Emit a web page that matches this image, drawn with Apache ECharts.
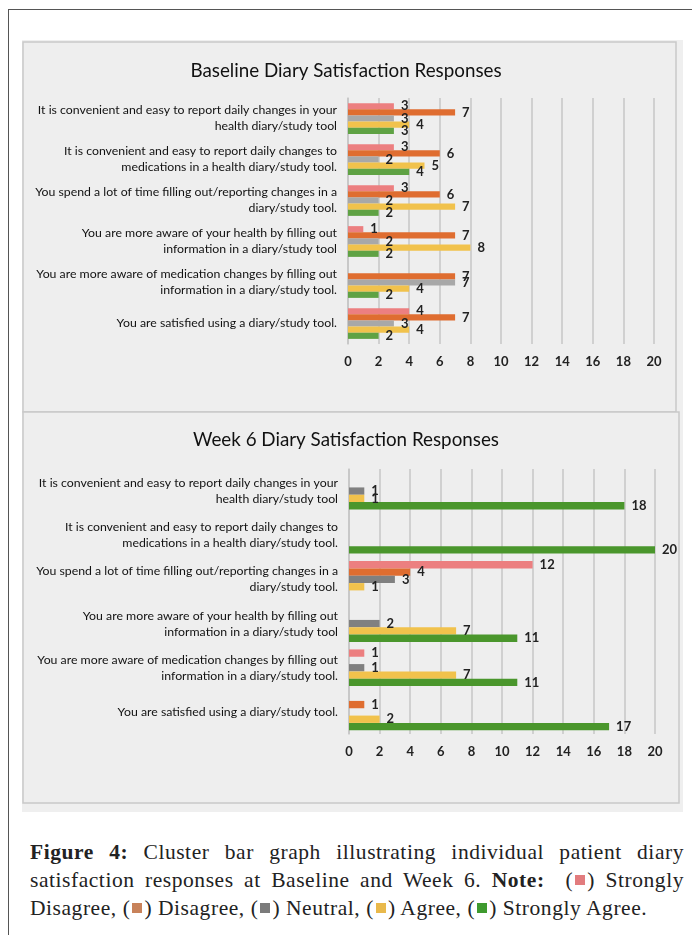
<!DOCTYPE html>
<html>
<head>
<meta charset="UTF-8">
<title>Diary satisfaction responses</title>
<script type="text/javascript" src="https://cdn.jsdelivr.net/npm/echarts@6/dist/echarts.min.js"></script>
<style>
body { margin:0; background:#fff; }
#frame { position:absolute; left:8px; top:9px; width:700px; height:940px; border-left:1.5px solid #555; border-top:1.5px solid #555; z-index:2; pointer-events:none; }
#box { position:absolute; left:0; top:0; width:692px; height:820px; }
#cap { position:absolute; left:30px; top:838px; width:654px; font-family:"Liberation Serif", serif; font-size:21.5px; letter-spacing:0.55px; color:#222; line-height:28px; }
#cap div { text-align:justify; text-align-last:justify; white-space:nowrap; }
#cap div.last { text-align-last:left; }
#cap b { font-weight:bold; }
.sq { display:inline-block; width:10px; height:10px; margin:0 2px; vertical-align:2px; }
</style>
</head>
<body>
<div id="frame"></div>
<div id="box"></div>
<div id="cap">
  <div><b>Figure 4:</b> Cluster bar graph illustrating individual patient diary</div>
  <div>satisfaction responses at Baseline and Week 6. <b>Note:</b>&nbsp; (<span class="sq" style="background:#e27c7e"></span>) Strongly</div>
  <div class="last">Disagree, (<span class="sq" style="background:#c8825a"></span>) Disagree, (<span class="sq" style="background:#7b7b7b"></span>) Neutral, (<span class="sq" style="background:#e9b94b"></span>) Agree, (<span class="sq" style="background:#3f9a2e"></span>) Strongly Agree.</div>
</div>

<script type="text/javascript">

// categories, top to bottom
var categories = [
  'It is convenient and easy to report daily changes in your\nhealth diary/study tool',
  'It is convenient and easy to report daily changes to\nmedications in a health diary/study tool.',
  'You spend a lot of time filling out/reporting changes in a\ndiary/study tool.',
  'You are more aware of your health by filling out\ninformation in a diary/study tool',
  'You are more aware of medication changes by filling out\ninformation in a diary/study tool.',
  'You are satisfied using a diary/study tool.'
];
var seriesNames = ['Strongly Disagree', 'Disagree', 'Neutral', 'Agree', 'Strongly Agree'];
var xTicks = [0, 2, 4, 6, 8, 10, 12, 14, 16, 18, 20];

// baseline counts (null = no bar)
var baseStronglyDisagree = [3, 3, 3, 1, null, 4];
var baseDisagree         = [7, 6, 6, 7, 7, 7];
var baseNeutral          = [3, 2, 2, 2, 7, 3];
var baseAgree            = [4, 5, 7, 8, 4, 4];
var baseStronglyAgree    = [3, 4, 2, 2, 2, 2];

// week 6 counts
var wk6StronglyDisagree = [null, null, 12, null, 1, null];
var wk6Disagree         = [null, null, 4, null, null, 1];
var wk6Neutral          = [1, null, 3, 2, 1, null];
var wk6Agree            = [1, null, 1, 7, 7, 2];
var wk6StronglyAgree    = [18, 20, null, 11, 11, 17];

var colorsTop = ['#ec7f80', '#df6d30', '#a8a8a8', '#f1c24c', '#5fa244'];
var colorsBot = ['#ec7f80', '#df6d30', '#808080', '#f1c24c', '#4a962c'];

var baseData = [baseStronglyDisagree, baseDisagree, baseNeutral, baseAgree, baseStronglyAgree];
var wk6Data = [wk6StronglyDisagree, wk6Disagree, wk6Neutral, wk6Agree, wk6StronglyAgree];

var mychart = echarts.init(document.getElementById('box'));

function xAxisFor(gi) {
  return {
    gridIndex: gi, type: 'value', min: xTicks[0], max: xTicks[xTicks.length - 1], interval: 2,
    axisLine: { show: false }, axisTick: { show: false },
    splitLine: { lineStyle: { color: '#c6c6c6', width: 1.5 } },
    axisLabel: { color: '#222', fontFamily: 'Lato', fontWeight: 'bold', fontSize: 13, margin: 11 }
  };
}
function yAxisFor(gi) {
  return {
    gridIndex: gi, type: 'category', data: categories, inverse: true,
    axisLine: { lineStyle: { color: '#c6c6c6', width: 1.5 } }, axisTick: { show: false },
    axisLabel: { color: '#111', fontFamily: 'Lato', fontSize: 12.3, lineHeight: 16, margin: 11, align: 'right' }
  };
}

var series = [];
function addSeries(data, colors, gi, gap) {
  for (var i = 0; i < data.length; i++) {
    series.push({
      name: seriesNames[i], type: 'bar', xAxisIndex: gi, yAxisIndex: gi,
      data: data[i], barGap: '0%', barCategoryGap: gap,
      itemStyle: { color: colors[i] },
      label: { show: true, position: 'right', distance: 7, color: '#222', fontFamily: 'Lato', fontWeight: 'bold', fontSize: 13 }
    });
  }
}
addSeries(baseData, colorsTop, 0, '25%');
addSeries(wk6Data, colorsBot, 1, '17%');

var option = {
  animation: false,
  backgroundColor: 'transparent',
  graphic: [
    { type: 'rect', shape: { x: 22, y: 40, width: 661, height: 772 }, style: { fill: '#efefef' }, silent: true },
    { type: 'rect', shape: { x: 23, y: 42, width: 653, height: 370 }, style: { fill: '#eeeeee', stroke: '#c9c9c9', lineWidth: 1.5 }, silent: true },
    { type: 'rect', shape: { x: 23, y: 412, width: 656, height: 391 }, style: { fill: '#eeeeee', stroke: '#c9c9c9', lineWidth: 1.5 }, silent: true }
  ],
  title: [
    { text: 'Baseline Diary Satisfaction Responses', left: 'center', top: 56,
      textStyle: { fontFamily: 'Lato', fontSize: 18.8, fontWeight: 'normal', color: '#111' } },
    { text: 'Week 6 Diary Satisfaction Responses', left: 'center', top: 425,
      textStyle: { fontFamily: 'Lato', fontSize: 18.8, fontWeight: 'normal', color: '#111' } }
  ],
  grid: [
    { left: 348, top: 98, width: 306, height: 246 },
    { left: 349, top: 469, width: 306, height: 265 }
  ],
  xAxis: [xAxisFor(0), xAxisFor(1)],
  yAxis: [yAxisFor(0), yAxisFor(1)],
  series: series
};

mychart.setOption(option);
</script>
</body>
</html>
